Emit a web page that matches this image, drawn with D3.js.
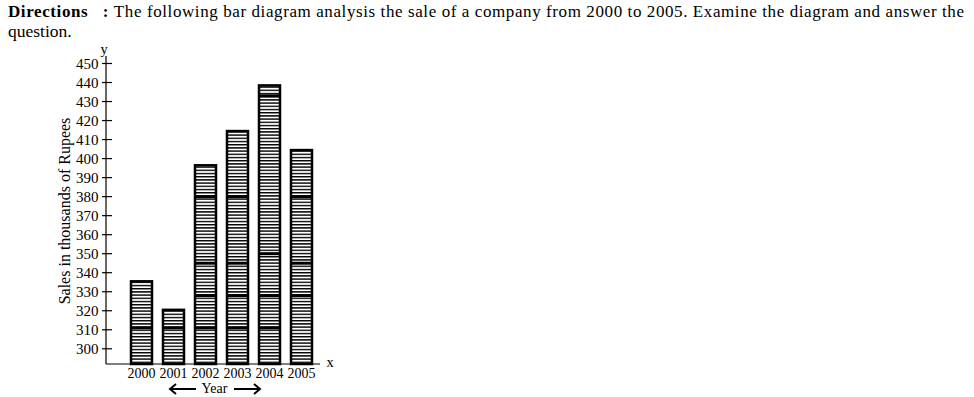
<!DOCTYPE html>
<html>
<head>
<meta charset="utf-8">
<script src="https://cdn.jsdelivr.net/npm/d3@7"></script>
<style>
body{margin:0;background:#fff}
svg{display:block}
</style>
</head>
<body>
<svg width="974" height="397"></svg>
<script>
const years=["2000","2001","2002","2003","2004","2005"]
const sales=[336,321,397,415,439,405]
const yTicks=d3.range(300,451,10)

const svg=d3.select("svg")

// header
const head=svg.append("text").attr("x",8).attr("y",17).attr("font-size",17)
.attr("textLength",956).attr("lengthAdjust","spacing")
head.append("tspan").attr("font-weight","bold").text("Directions\u00a0\u00a0\u00a0: ")
head.append("tspan").text("The following bar diagram analysis the sale of a company from 2000 to 2005. Examine the diagram and answer the")
svg.append("text").attr("x",8).attr("y",37).attr("font-size",17.5).text("question.")

// scales
const y=d3.scaleLinear().domain([292,450]).range([364,63.5])
const x=d3.scaleBand().domain(years).range([121,322]).paddingInner(0.28125).paddingOuter(0.28125)
const x0=106

// stripe pattern
const pat=svg.append("defs").append("pattern").attr("id","stripes").attr("patternUnits","userSpaceOnUse")
.attr("width",8).attr("height",3.2)
pat.append("rect").attr("width",8).attr("height",3.2).attr("fill","#fff")
pat.append("rect").attr("width",8).attr("height",1.4).attr("fill","#000")

// bars
const g=svg.append("g")
g.selectAll("rect.bar").data(sales).join("rect").attr("class","bar")
.attr("x",(d,i)=>x(years[i])+1).attr("width",x.bandwidth()-2)
.attr("y",d=>y(d)+1).attr("height",d=>364-y(d)-1)
.attr("fill","url(#stripes)").attr("stroke","#000").attr("stroke-width",2.5)

// darker bands inside bars
const bands=[[311],[311],[345,328,311,380],[345,328,311,380],[328,311,350,433],[345,328,380]]
bands.forEach((b,i)=>{
b.filter(v=>v<sales[i]).forEach(v=>{
g.append("rect").attr("x",x(years[i])+1).attr("width",x.bandwidth()-2)
.attr("y",y(v)-1.5).attr("height",3).attr("fill","#000")
})
})

// axes
svg.append("line").attr("x1",x0).attr("x2",x0).attr("y1",56).attr("y2",364).attr("stroke","#000").attr("stroke-width",1.2)
svg.append("line").attr("x1",x0).attr("x2",320).attr("y1",364).attr("y2",364).attr("stroke","#000").attr("stroke-width",1.2)
svg.append("text").attr("x",x0-2).attr("y",54).attr("text-anchor","middle").attr("font-size",14.5).text("y")
svg.append("text").attr("x",330).attr("y",367).attr("text-anchor","middle").attr("font-size",14.5).text("x")

const yt=svg.append("g")
yTicks.forEach(t=>{
yt.append("line").attr("x1",x0-4).attr("x2",x0+6).attr("y1",y(t)).attr("y2",y(t)).attr("stroke","#000").attr("stroke-width",1.2)
yt.append("text").attr("x",x0-7.5).attr("y",y(t)+5).attr("text-anchor","end").attr("font-size",15).text(t)
})

svg.selectAll("text.xl").data(years).join("text").attr("class","xl")
.attr("x",d=>x(d)+x.bandwidth()/2).attr("y",377.5).attr("text-anchor","middle")
.attr("font-size",14).text(d=>d)

// y title
svg.append("text").attr("transform","translate(70,211) rotate(-90)").attr("text-anchor","middle")
.attr("font-size",16).text("Sales in thousands of Rupees")

// Year with arrows
svg.append("text").attr("x",214.5).attr("y",392.5).attr("text-anchor","middle").attr("font-size",14).text("Year")
const ar=svg.append("g").attr("stroke","#000").attr("stroke-width",2).attr("fill","none")
ar.append("line").attr("x1",170).attr("x2",196).attr("y1",389).attr("y2",389)
ar.append("path").attr("d","M176,384 L170,389 L176,394")
ar.append("line").attr("x1",234).attr("x2",260).attr("y1",389).attr("y2",389)
ar.append("path").attr("d","M254,384 L260,389 L254,394")

svg.selectAll("text").style("font-family","'Liberation Serif'")
</script>
</body>
</html>
